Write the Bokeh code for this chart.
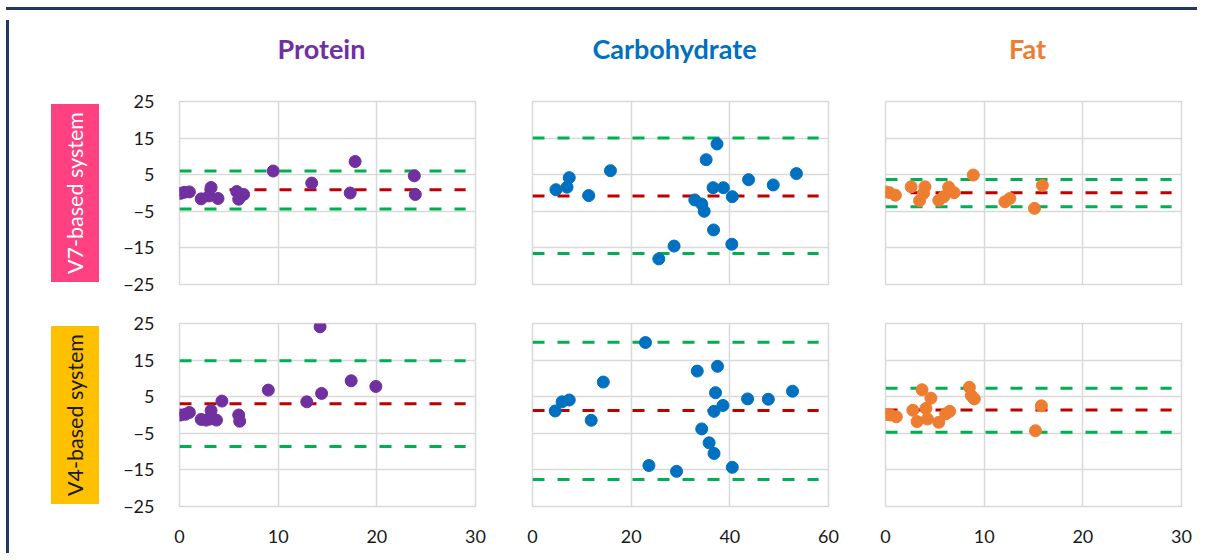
from bokeh.plotting import figure
from bokeh.models import Range1d, FixedTicker, Title, Div, Spacer
from bokeh.layouts import row, column
from bokeh.embed import file_html
from bokeh.resources import INLINE

# ---------------- data ----------------
nutrients = ["Protein", "Carbohydrate", "Fat"]
systems = ["V7-based system", "V4-based system"]

y_ticks = [-25, -15, -5, 5, 15, 25]
protein_x_ticks = [0, 10, 20, 30]
carb_x_ticks = [0, 20, 40, 60]
fat_x_ticks = [0, 10, 20, 30]

protein_v7_x = [0.1, 0.5, 1.0, 2.2, 3.0, 3.2, 3.9, 5.8, 6.0, 6.5, 9.5, 13.4, 17.3, 17.8, 23.8, 23.9]
protein_v7_y = [-0.1, 0.2, 0.3, -1.6, -0.8, 1.5, -1.5, 0.4, -1.7, -0.4, 6.0, 2.7, 0.0, 8.6, 4.7, -0.4]
carb_v7_x = [4.75, 7.0, 7.45, 11.4, 15.8, 25.6, 28.7, 32.9, 34.3, 34.8, 35.2, 36.6, 36.7, 37.4, 38.7, 40.4, 40.5, 43.8, 48.8, 53.5]
carb_v7_y = [0.9, 1.6, 4.2, -0.7, 6.1, -18.0, -14.5, -1.9, -3.0, -5.0, 9.1, 1.45, -10.1, 13.4, 1.45, -14.0, -1.0, 3.65, 2.2, 5.3]
fat_v7_x = [0.0, 0.4, 1.0, 2.6, 3.45, 3.85, 4.0, 5.4, 5.9, 6.4, 6.95, 8.9, 12.1, 12.6, 15.1, 15.9]
fat_v7_y = [0.3, 0.1, -0.6, 1.7, -2.1, -0.1, 1.7, -2.0, -1.0, 1.6, 0.1, 4.9, -2.4, -1.5, -4.2, 2.1]

protein_v4_x = [0.1, 0.6, 1.0, 2.2, 2.7, 3.1, 3.2, 3.75, 4.3, 6.0, 6.1, 9.0, 12.9, 14.25, 14.4, 17.4, 19.9]
protein_v4_y = [0.0, 0.2, 0.7, -1.2, -1.4, -1.1, 1.2, -1.4, 3.8, 0.0, -1.7, 6.8, 3.6, 24.1, 5.9, 9.35, 7.8]
carb_v4_x = [4.6, 6.0, 7.45, 11.9, 14.35, 22.9, 23.6, 29.2, 33.4, 34.3, 35.8, 36.8, 36.8, 37.1, 37.5, 38.6, 40.5, 43.6, 47.8, 52.7]
carb_v4_y = [1.1, 3.6, 4.1, -1.45, 9.0, 19.8, -13.8, -15.4, 12.0, -3.8, -7.6, -10.5, 1.0, 6.1, 13.3, 2.6, -14.3, 4.4, 4.3, 6.5]
fat_v4_x = [0.0, 0.5, 1.1, 2.77, 3.2, 3.7, 4.1, 4.25, 4.6, 5.4, 6.1, 6.5, 8.5, 8.7, 9.0, 15.2, 15.8]
fat_v4_y = [0.1, 0.0, -0.5, 1.3, -1.8, 6.9, 1.8, -1.1, 4.6, -2.0, 0.3, 1.0, 7.55, 5.3, 4.4, -4.3, 2.5]

# limits of agreement: [lower, mean bias, upper]
protein_v7_loa = [-4.4, 0.9, 6.0]
carb_v7_loa = [-16.5, -0.8, 15.0]
fat_v7_loa = [-3.75, 0.1, 3.7]
protein_v4_loa = [-8.6, 3.1, 14.8]
carb_v4_loa = [-17.6, 1.2, 19.9]
fat_v4_loa = [-4.7, 1.4, 7.3]

x_max = [30, 60, 30]
line_end = [29, 58, 29]

# ---------------- style ----------------
PURPLE, BLUE, ORANGE = "#7030A0", "#0070C0", "#ED7D31"
GREEN, RED = "#00B050", "#C00000"
PINK, GOLD = "#FF4081", "#FFC000"
NAVY = "#1F3864"
GRID = "#D9D9D9"
FONT = "Lato"


def panel(xs, ys, loa, color, xm, xend, xticks, width, height, bl, br, bt, bb,
          show_x, show_y, title=None, row_label=None, label_bg=None, label_color=None):
    p = figure(width=width, height=height, x_range=Range1d(0, xm), y_range=Range1d(-25, 25),
               output_backend="svg", toolbar_location=None,
               min_border_left=bl, min_border_right=br, min_border_top=bt, min_border_bottom=bb,
               title=title, title_location="above" if title else None)
    p.background_fill_color = "white"
    p.border_fill_color = "white"
    p.outline_line_color = GRID
    p.outline_line_width = 1.5
    p.xgrid.grid_line_color = GRID
    p.ygrid.grid_line_color = GRID
    p.xgrid.grid_line_width = 1.5
    p.ygrid.grid_line_width = 1.5
    p.xaxis.ticker = FixedTicker(ticks=xticks)
    p.yaxis.ticker = FixedTicker(ticks=y_ticks)
    for ax in (p.xaxis, p.yaxis):
        ax.major_tick_line_color = None
        ax.minor_tick_line_color = None
        ax.axis_line_color = None
        ax.major_label_text_font = FONT
        ax.major_label_text_font_size = "18px"
        ax.major_label_text_color = "#1A1A1A"
    p.xaxis.major_label_standoff = 17
    p.yaxis.major_label_standoff = 19
    p.xaxis.visible = show_x
    p.yaxis.visible = show_y
    if title:
        p.title.align = "center"
        p.title.text_font = FONT
        p.title.text_font_size = "27px"
        p.title.text_font_style = "bold"
        p.title.text_color = color
        p.title.standoff = 0
        p.title.padding = dict(left=0, right=12, top=0, bottom=37)
    if row_label:
        t = Title(text=row_label, align="center", text_font=FONT, text_font_size="21.5px",
                  text_font_style="normal", text_color=label_color,
                  background_fill_color=label_bg, padding=(8, 11), standoff=43)
        p.add_layout(t, "left")
    p.segment(x0=[0, 0, 0], x1=[xend] * 3, y0=loa, y1=loa,
              line_color=[GREEN, RED, GREEN], line_width=3, line_dash="12 13")
    p.scatter(xs, ys, size=12, color=color)
    return p


TOP_H, BOT_H = 286, 247
W = [490, 353, 345]
BL = [165, 28, 28]
BR = [29, 29, 21]
TOP_BT, TOP_BB = 86, 17
BOT_BT, BOT_BB = 22, 42

top = [
    panel(protein_v7_x, protein_v7_y, protein_v7_loa, PURPLE, x_max[0], line_end[0], protein_x_ticks,
          W[0], TOP_H, BL[0], BR[0], TOP_BT, TOP_BB, False, True, nutrients[0], systems[0], PINK, "white"),
    panel(carb_v7_x, carb_v7_y, carb_v7_loa, BLUE, x_max[1], line_end[1], carb_x_ticks,
          W[1], TOP_H, BL[1], BR[1], TOP_BT, TOP_BB, False, False, nutrients[1]),
    panel(fat_v7_x, fat_v7_y, fat_v7_loa, ORANGE, x_max[2], line_end[2], fat_x_ticks,
          W[2], TOP_H, BL[2], BR[2], TOP_BT, TOP_BB, False, False, nutrients[2]),
]
bottom = [
    panel(protein_v4_x, protein_v4_y, protein_v4_loa, PURPLE, x_max[0], line_end[0], protein_x_ticks,
          W[0], BOT_H, BL[0], BR[0], BOT_BT, BOT_BB, True, True, None, systems[1], GOLD, "#1A1A1A"),
    panel(carb_v4_x, carb_v4_y, carb_v4_loa, BLUE, x_max[1], line_end[1], carb_x_ticks,
          W[1], BOT_H, BL[1], BR[1], BOT_BT, BOT_BB, True, False),
    panel(fat_v4_x, fat_v4_y, fat_v4_loa, ORANGE, x_max[2], line_end[2], fat_x_ticks,
          W[2], BOT_H, BL[2], BR[2], BOT_BT, BOT_BB, True, False),
]

grid = column(row(*top), row(*bottom))
top_border = row(Spacer(width=1, height=3),
                 Div(text="", width=1191, height=3, styles={"background-color": NAVY}))
left_border = Div(text="", width=3, height=TOP_H + BOT_H, styles={"background-color": NAVY})
layout = column(Spacer(width=10, height=2), top_border,
                row(Spacer(width=1, height=10), left_border, grid))

open("out.html", "w").write(file_html(layout, INLINE))
